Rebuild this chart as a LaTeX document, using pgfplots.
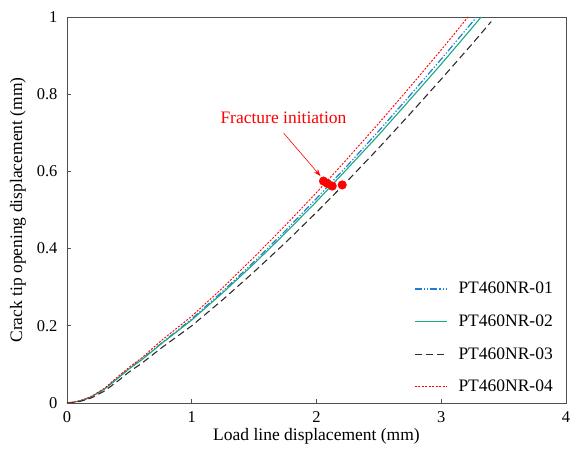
\documentclass[border=0pt]{standalone}
\usepackage{pgfplots}
\pgfplotsset{compat=1.18}
\usepackage{fontspec}
\setmainfont{Liberation Serif}
\usetikzlibrary{arrows.meta}
\definecolor{cblue}{RGB}{30,125,215}
\definecolor{cgreen}{RGB}{25,170,125}
\definecolor{cblack}{RGB}{45,45,45}
\definecolor{cred}{RGB}{255,0,0}
\definecolor{axgray}{RGB}{80,80,80}
\begin{document}
\begin{tikzpicture}
\begin{axis}[
  width=499pt, height=386pt, scale only axis,
  xmin=0, xmax=4, ymin=0, ymax=1,
  xtick={0,1,2,3,4}, ytick={0,0.2,0.4,0.6,0.8,1},
  xtick pos=left, ytick pos=left, tick align=inside,
  major tick length=4pt,
  axis line style={draw=axgray, line width=0.9pt},
  every tick/.style={draw=axgray, line width=0.8pt},
  /pgf/number format/assume math mode=true,
  y tick label style={/pgf/number format/fixed, /pgf/number format/precision=1, xshift=-6pt},
  x tick label style={yshift=-5pt},
  tick label style={font=\fontsize{16.5}{18}\selectfont},
  label style={font=\fontsize{17.5}{20}\selectfont},
  xlabel={Load line displacement (mm)},
  ylabel={Crack tip opening displacement (mm)},
  xlabel style={yshift=1pt},
  ylabel style={yshift=4pt},
  legend style={draw=none, fill=none, at={(rel axis cs:0.982,0.014)}, anchor=south east,
    font=\fontsize{17.5}{20}\selectfont, row sep=15.5pt, inner sep=2pt,
    /tikz/every odd column/.append style={column sep=9pt}},
  legend cell align=left,
  legend image code/.code={\draw[#1] (0pt,0pt) -- (32pt,0pt);},
]
\coordinate (O) at (rel axis cs:0,0);
\coordinate (T) at (rel axis cs:1,1);
\addplot[cblue, line width=1.2pt, dash pattern=on 7pt off 2pt on 1.2pt off 2pt on 1.2pt off 2pt] coordinates {
(0,0) (0.05,0.002) (0.1,0.005) (0.15,0.010) (0.2,0.017) (0.3,0.036) (0.4,0.063)
(0.5,0.090) (0.6,0.114) (0.75,0.153) (1.0,0.218) (1.25,0.290) (1.5,0.366)
(1.75,0.446) (2.0,0.530) (2.25,0.616) (2.5,0.705) (2.75,0.797) (3.0,0.891)
(3.25,0.987) (3.284,1.0)};
\addlegendentry{PT460NR-01}
\addplot[cgreen, line width=1.1pt] coordinates {
(0,0) (0.05,0.002) (0.1,0.005) (0.15,0.010) (0.2,0.017) (0.3,0.036) (0.4,0.062)
(0.5,0.089) (0.6,0.112) (0.75,0.152) (1.0,0.215) (1.25,0.286) (1.5,0.361)
(1.75,0.440) (2.0,0.522) (2.25,0.608) (2.5,0.695) (2.75,0.786) (3.0,0.878)
(3.25,0.973) (3.32,1.0)};
\addlegendentry{PT460NR-02}
\addplot[cblack, line width=1.1pt, dash pattern=on 7pt off 4pt] coordinates {
(0,0) (0.05,0.001) (0.1,0.004) (0.15,0.008) (0.2,0.014) (0.3,0.031) (0.4,0.055)
(0.5,0.081) (0.6,0.103) (0.75,0.141) (1.0,0.200) (1.25,0.268) (1.5,0.340)
(1.75,0.415) (2.0,0.494) (2.25,0.576) (2.5,0.661) (2.75,0.749) (3.0,0.839)
(3.25,0.931) (3.40,0.988)};
\addlegendentry{PT460NR-03}
\addplot[cred, line width=0.9pt, dash pattern=on 2pt off 1.5pt] coordinates {
(0,0) (0.05,0.002) (0.1,0.006) (0.15,0.011) (0.2,0.018) (0.3,0.038) (0.4,0.066)
(0.5,0.093) (0.6,0.117) (0.75,0.160) (1.0,0.225) (1.25,0.299) (1.5,0.378)
(1.75,0.460) (2.0,0.545) (2.25,0.634) (2.5,0.725) (2.75,0.819) (3.0,0.915)
(3.215,1.0)};
\addlegendentry{PT460NR-04}
\addplot[only marks, mark=*, mark size=4.3pt, color=cred, forget plot] coordinates {
(2.056,0.575) (2.086,0.569) (2.126,0.562) (2.206,0.565)};
\draw[cred, line width=0.6pt, -{Stealth[length=7pt,width=5pt]}] (axis cs:1.737,0.699) -- (axis cs:2.032,0.588);
\node[text=cred, font=\fontsize{17.5}{20}\selectfont] at (axis cs:1.735,0.738) {Fracture initiation};
\end{axis}
\pgfresetboundingbox
\path (O) ++(-67pt,-51pt) rectangle ([xshift=4pt,yshift=17pt]T);
\end{tikzpicture}
\end{document}
